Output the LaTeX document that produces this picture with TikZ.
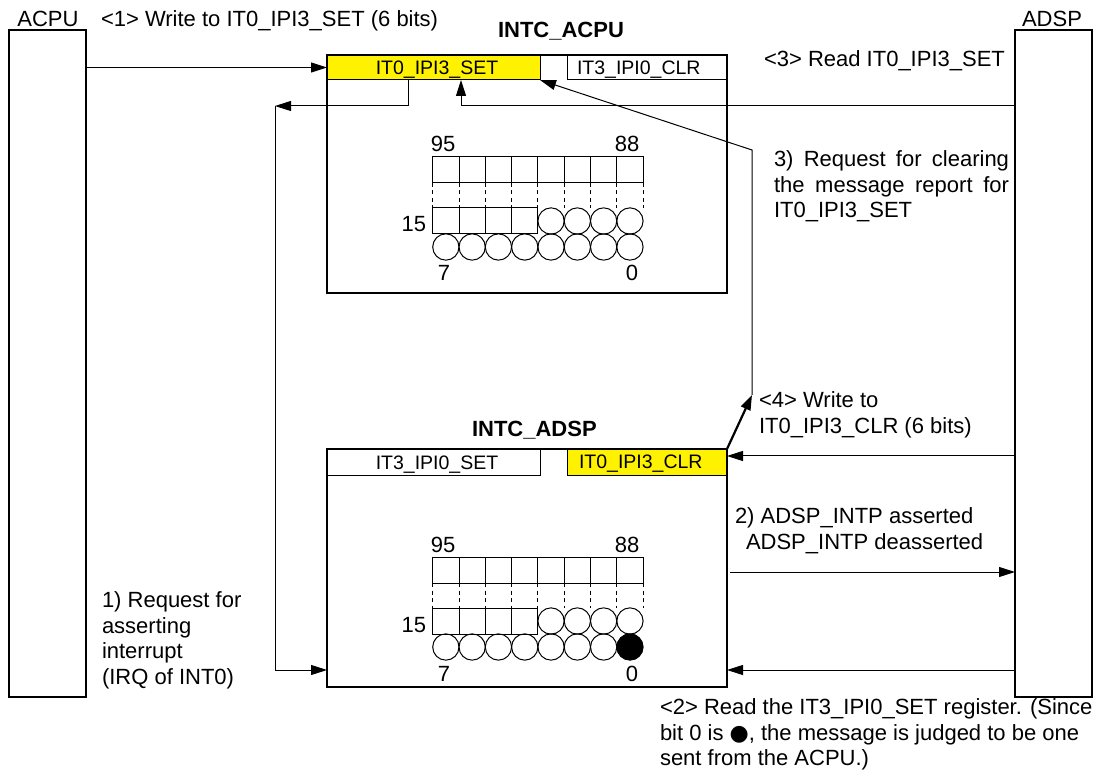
\documentclass[tikz,border=0pt]{standalone}
\usepackage{fontspec}
\setmainfont{Liberation Sans}
\newfontfamily\dejavu{DejaVu Sans}
\usetikzlibrary{arrows.meta}
\newcommand{\bitgrid}[2]{%
  \foreach \i in {0,...,7} {\draw[gridline] ({432.7+\i*26.3},{157+#1}) rectangle ++(26.3,26);}
  \foreach \i in {0,...,8} {\draw[gridline,dash pattern=on 4pt off 3.5pt] ({432.7+\i*26.3},{183+#1}) -- ++(0,25);}
  \foreach \i in {0,...,3} {\draw[gridline] ({432.7+\i*26.3},{208+#1}) rectangle ++(26.3,26);}
  \foreach \i in {4,...,7} {\draw[gridline] ({432.7+(\i+0.5)*26.3},{221+#1}) circle[radius=13.15pt];}
  \foreach \i in {0,...,7} {\draw[gridline] ({432.7+(\i+0.5)*26.3},{247+#1}) circle[radius=13.15pt];}
  \node[txt,anchor=base] (#2a) at (443,{152+#1}) {95};
  \node[txt,anchor=base] (#2b) at (627,{152+#1}) {88};
  \node[txt,anchor=base east] (#2c) at (426,{232+#1}) {15};
  \node[txt,anchor=base] (#2d) at (444,{281+#1}) {7};
  \node[txt,anchor=base] (#2e) at (632,{281+#1}) {0};
}
\begin{document}
\begin{tikzpicture}[x=1pt,y=-1pt,
  every node/.style={inner sep=0pt,outer sep=0pt},
  txt/.style={font=\fontsize{22}{25.5}\selectfont},
  ttl/.style={font=\fontsize{22}{25.5}\selectfont\bfseries},
  reg/.style={font=\fontsize{19.5}{22}\selectfont},
  cpubox/.style={draw,line width=2.5pt,minimum width=77pt,minimum height=667pt},
  intcbox/.style={draw,line width=2.5pt,minimum width=400pt,minimum height=238pt},
  regbox/.style={draw,line width=1pt,minimum height=25pt},
  gridline/.style={line width=1pt},
  arr/.style={-{Triangle[length=16pt,width=10pt]},line width=1pt},
  thickarr/.style={-{Triangle[length=15pt,width=10pt]},line width=2.2pt}]
\fill[white] (0,0) rectangle (1098,775);
\useasboundingbox (0,0) rectangle (1098,775);

% processors
\node[cpubox] (acpu) at (47.5,363.5) {};
\node[cpubox] (adsp) at (1053.5,363.5) {};
\node[txt,anchor=base] (acpulbl) at (48,27) {ACPU};
\node[txt,anchor=base] (adsplbl) at (1052,27) {ADSP};

% registers INTC_ACPU
\node[regbox,fill=yellow,minimum width=213pt] (setA) at (433.5,67.5) {};
\node[regbox,fill=white,minimum width=160pt] (clrA) at (647,67.5) {};
\node[reg,anchor=base] (setAt) at (437,75) {IT0\_IPI3\_SET};
\node[reg,anchor=base west] (clrAt) at (577,75) {IT3\_IPI0\_CLR};
% registers INTC_ADSP
\node[regbox,fill=white,minimum width=213pt,minimum height=26pt] (setD) at (433.5,462) {};
\node[regbox,fill=yellow,minimum width=160pt,minimum height=26pt] (clrD) at (647,462) {};
\node[reg,anchor=base] (setDt) at (437,469) {IT3\_IPI0\_SET};
\node[reg,anchor=base west] (clrDt) at (579,468) {IT0\_IPI3\_CLR};

% interrupt controllers
\node[intcbox] (intcA) at (527,174) {};
\node[intcbox] (intcD) at (527,568) {};
\node[ttl,anchor=base west] (intcAt) at (498,38) {INTC\_ACPU};
\node[ttl,anchor=base west] (intcDt) at (472,437) {INTC\_ADSP};

% bit grids
\bitgrid{0}{ga}
\bitgrid{400}{gd}
\fill (432.7+7.5*26.3,647) circle[radius=13.15pt];

% connectors
\coordinate (c1) at (275,106);
\coordinate (c2) at (752,150);
\coordinate (c3) at (752,395);
\coordinate (c4) at (730,572);
\draw[arr] (acpu.east |- setA.west) -- (setA.west);
\draw[arr] (408,0 |- setA.south) |- (c1);
\draw[arr] (c1) |- (intcD.west |- 0,670);
\draw[arr] (adsp.west |- c1) -| (461,0 |- setA.south);
\draw[arr] (c3) -- (c2) -- (setA.south east);
\draw[thickarr] (intcD.north east) -- (c3);
\draw[arr] (adsp.west |- 0,456) -- (intcD.east |- 0,456);
\draw[arr] (c4) -- (adsp.west |- c4);
\draw[arr] (adsp.west |- 0,670) -- (intcD.east |- 0,670);

% texts
\node[txt,anchor=base west] (s1) at (101,27) {<1> Write to IT0\_IPI3\_SET (6 bits)};
\node[txt,anchor=base west] (s3) at (764,67) {<3> Read IT0\_IPI3\_SET};
\node[txt,anchor=north west,text width=235pt,align=justify] (r3) at (774,151)
  {3)~Request for clearing\linebreak the message report for\linebreak IT0\_IPI3\_SET};
\node[txt,anchor=north west,align=left] (s4) at (759,392) {<4> Write to\\IT0\_IPI3\_CLR (6 bits)};
\node[txt,anchor=north west,align=left] (r2) at (735,508) {2) ADSP\_INTP asserted\\\hspace*{11pt}ADSP\_INTP deasserted};
\node[txt,anchor=north west,align=left] (r1) at (102,592) {1) Request for\\asserting\\interrupt\\(IRQ of INT0)};
\node[txt,anchor=north west,align=left] (s2) at (660,699) {<2> Read the IT3\_IPI0\_SET register. (Since\\bit 0 is {\dejavu ●}, the message is judged to be one\\sent from the ACPU.)};
\end{tikzpicture}
\end{document}
